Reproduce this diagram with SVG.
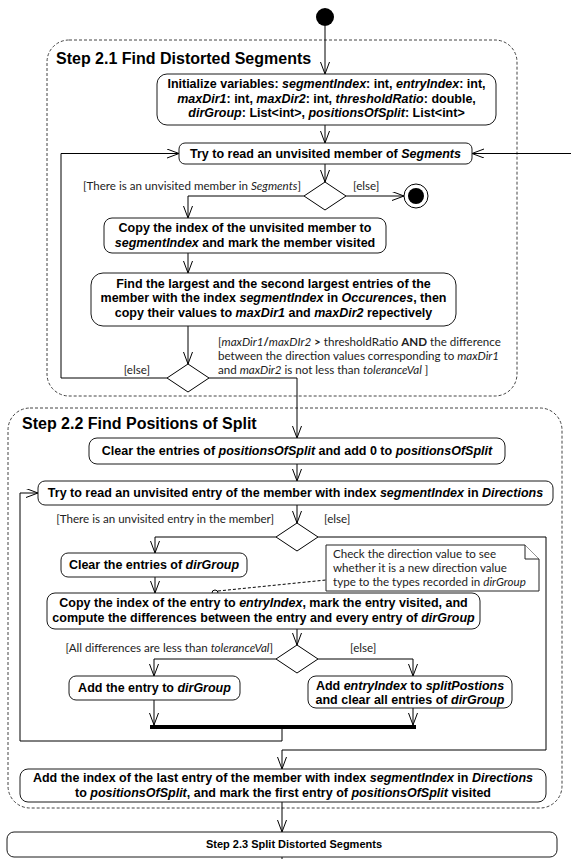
<svg xmlns="http://www.w3.org/2000/svg" width="571" height="859" viewBox="0 0 571 859">
  <defs>
    <style>
      .act { fill: #fff; stroke: #1a1a1a; stroke-width: 1; }
      .t { font-family: "Liberation Sans", Arial, sans-serif; font-weight: bold; font-size: 12.5px; fill: #000; text-anchor: middle; }
      .title { font-family: "Liberation Sans", Arial, sans-serif; font-weight: bold; font-size: 16px; fill: #000; }
      .g { font-family: Lato, "Liberation Sans", sans-serif; font-size: 11.6px; fill: #222; }
      .end { text-anchor: end; }
      .i { font-style: italic; }
      .b { font-weight: bold; }
      .frame { fill: none; stroke: #444; stroke-width: 1; stroke-dasharray: 3 2; }
      .edge { fill: none; stroke: #000; stroke-width: 1; }
      .arrow { marker-end: url(#open); }
      .dec { fill: #fff; stroke: #000; stroke-width: 1; }
      .note { fill: #fff; stroke: #222; stroke-width: 1; }
    </style>
    <marker id="open" markerWidth="14" markerHeight="10" refX="12" refY="4.5" orient="auto" markerUnits="userSpaceOnUse">
      <path d="M0,0 L12,4.5 L0,9" fill="none" stroke="#000" stroke-width="1"/>
    </marker>
  </defs>

  <!-- activity partitions -->
  <g id="step21">
    <rect class="frame" x="47" y="40" width="470" height="356" rx="22"/>
    <text class="title" x="56" y="64">Step 2.1 Find Distorted Segments</text>
  </g>
  <g id="step22">
    <rect class="frame" x="8" y="408" width="554" height="400" rx="22"/>
    <text class="title" x="22" y="429">Step 2.2 Find Positions of Split</text>
  </g>

  <!-- control flows -->
  <g id="edges">
    <path class="edge arrow" d="M325,26 V74"/>
    <path class="edge arrow" d="M325,125 V143"/>
    <path class="edge arrow" d="M571,153.5 H472"/>
    <path class="edge arrow" d="M325,164 V182"/>
    <path class="edge arrow" d="M346,196 H404"/>
    <path class="edge arrow" d="M304,196 H188 V218"/>
    <path class="edge arrow" d="M188,253 V273"/>
    <path class="edge arrow" d="M188,326 V364"/>
    <path class="edge arrow" d="M167,378 H61 V153.5 H179"/>
    <path class="edge arrow" d="M209,378 H297 V438"/>
    <path class="edge arrow" d="M297,464 V481"/>
    <path class="edge arrow" d="M297,505 V523"/>
    <path class="edge arrow" d="M276,537 H155 V553"/>
    <path class="edge arrow" d="M318,537 H546 V750 H282 V769"/>
    <path class="edge arrow" d="M155,577 V593"/>
    <path class="edge arrow" d="M297,629 V645"/>
    <path class="edge arrow" d="M276,659 H154 V676"/>
    <path class="edge arrow" d="M318,659 H413 V676"/>
    <path class="edge arrow" d="M154,700 V725"/>
    <path class="edge arrow" d="M413,708 V725"/>
    <path class="edge arrow" d="M282,729 V741 H20 V493 H38"/>
    <path class="edge arrow" d="M282,802 V832"/>
    <path class="edge" d="M282,857 V859"/>
    <!-- note anchor -->
    <path class="edge" d="M218,591 L326,580" stroke-dasharray="3 2"/>
    <circle cx="215" cy="593" r="3" fill="#fff" stroke="#000"/>

    <!-- guards -->
    <text class="g end" x="301" y="190">[There is an unvisited member in <tspan class="i">Segments</tspan>]</text>
    <text class="g" x="353" y="190">[else]</text>
    <text class="g end" x="150" y="374">[else]</text>
    <text class="g" x="218" y="346">[<tspan class="i">maxDir1</tspan><tspan class="b">/</tspan><tspan class="i">maxDIr2</tspan> <tspan class="b">&gt;</tspan> thresholdRatio <tspan class="b">AND</tspan> the difference</text>
    <text class="g" x="218" y="360">between the direction values corresponding to <tspan class="i">maxDir1</tspan></text>
    <text class="g" x="218" y="374">and <tspan class="i">maxDir2</tspan> is not less than <tspan class="i">toleranceVal</tspan> ]</text>
    <text class="g end" x="274" y="523">[There is an unvisited entry in the member]</text>
    <text class="g" x="324" y="523">[else]</text>
    <text class="g end" x="273" y="652">[All differences are less than <tspan class="i">toleranceVal</tspan>]</text>
    <text class="g" x="350" y="652">[else]</text>
  </g>

  <!-- nodes -->
  <g id="start">
    <circle cx="325" cy="17" r="9" fill="#000"/>
  </g>
  <g id="init">
    <rect class="act" x="157" y="74" width="339" height="51" rx="10"/>
    <text class="t" x="326.5" y="88">Initialize variables: <tspan class="i">segmentIndex</tspan>: int, <tspan class="i">entryIndex</tspan>: int,</text>
    <text class="t" x="326.5" y="102.5"><tspan class="i">maxDir1</tspan>: int, <tspan class="i">maxDir2</tspan>: int, <tspan class="i">thresholdRatio</tspan>: double,</text>
    <text class="t" x="326.5" y="117"><tspan class="i">dirGroup</tspan>: List&lt;int&gt;, <tspan class="i">positionsOfSplit</tspan>: List&lt;int&gt;</text>
  </g>
  <g id="tryMember">
    <rect class="act" x="179" y="143" width="293" height="21" rx="6"/>
    <text class="t" x="325.5" y="158">Try to read an unvisited member of <tspan class="i">Segments</tspan></text>
  </g>
  <g id="decisionMember">
    <polygon class="dec" points="325,182 346,196 325,210 304,196"/>
  </g>
  <g id="final">
    <circle cx="416" cy="196" r="12" fill="#fff" stroke="#000"/>
    <circle cx="416" cy="196" r="8" fill="#000"/>
  </g>
  <g id="copyMember">
    <rect class="act" x="104" y="218" width="282" height="35" rx="8"/>
    <text class="t" x="245" y="232">Copy the index of the unvisited member to</text>
    <text class="t" x="245" y="247"><tspan class="i">segmentIndex</tspan> and mark the member visited</text>
  </g>
  <g id="findMax">
    <rect class="act" x="91" y="273" width="365" height="53" rx="12"/>
    <text class="t" x="273.5" y="287.5">Find the largest and the second largest entries of the</text>
    <text class="t" x="273.5" y="302">member with the index <tspan class="i">segmentIndex</tspan> in <tspan class="i">Occurences</tspan>, then</text>
    <text class="t" x="273.5" y="316.5">copy their values to <tspan class="i">maxDir1</tspan> and <tspan class="i">maxDir2</tspan> repectively</text>
  </g>
  <g id="decisionRatio">
    <polygon class="dec" points="188,364 209,378 188,392 167,378"/>
  </g>
  <g id="clearPositions">
    <rect class="act" x="89" y="438" width="416" height="26" rx="8"/>
    <text class="t" x="297" y="455">Clear the entries of <tspan class="i">positionsOfSplit</tspan> and add 0 to <tspan class="i">positionsOfSplit</tspan></text>
  </g>
  <g id="tryEntry">
    <rect class="act" x="38" y="481" width="515" height="24" rx="7"/>
    <text class="t" x="295.5" y="497">Try to read an unvisited entry of the member with index <tspan class="i">segmentIndex</tspan> in <tspan class="i">Directions</tspan></text>
  </g>
  <g id="decisionEntry">
    <polygon class="dec" points="297,523 318,537 297,551 276,537"/>
  </g>
  <g id="clearGroup">
    <rect class="act" x="61" y="553" width="186" height="24" rx="7"/>
    <text class="t" x="154" y="569">Clear the entries of <tspan class="i">dirGroup</tspan></text>
  </g>
  <g id="noteCheck">
    <path class="note" d="M326,545 H525 L539,559 V591 H326 Z"/>
    <path class="note" d="M525,545 V559 H539" fill="none"/>
    <text class="g" x="333" y="558">Check the direction value to see</text>
    <text class="g" x="333" y="572">whether it is a new direction value</text>
    <text class="g" x="333" y="586">type to the types recorded in <tspan class="i">dirGroup</tspan></text>
  </g>
  <g id="copyEntry">
    <rect class="act" x="47" y="593" width="433" height="36" rx="8"/>
    <text class="t" x="263.5" y="607">Copy the index of the entry to <tspan class="i">entryIndex</tspan>, mark the entry visited, and</text>
    <text class="t" x="263.5" y="622">compute the differences between the entry and every entry of <tspan class="i">dirGroup</tspan></text>
  </g>
  <g id="decisionTolerance">
    <polygon class="dec" points="297,645 318,659 297,673 276,659"/>
  </g>
  <g id="addEntry">
    <rect class="act" x="69" y="676" width="171" height="24" rx="7"/>
    <text class="t" x="154.5" y="692">Add the entry to <tspan class="i">dirGroup</tspan></text>
  </g>
  <g id="addSplit">
    <rect class="act" x="308" y="676" width="204" height="32" rx="8"/>
    <text class="t" x="410" y="689.5">Add <tspan class="i">entryIndex</tspan> to <tspan class="i">splitPostions</tspan></text>
    <text class="t" x="410" y="704">and clear all entries of <tspan class="i">dirGroup</tspan></text>
  </g>
  <g id="join">
    <rect x="150" y="725" width="266" height="4" fill="#000"/>
  </g>
  <g id="addLast">
    <rect class="act" x="20" y="769" width="526" height="33" rx="8"/>
    <text class="t" x="283" y="782">Add the index of the last entry of the member with index <tspan class="i">segmentIndex</tspan> in <tspan class="i">Directions</tspan></text>
    <text class="t" x="283" y="797">to <tspan class="i">positionsOfSplit</tspan>, and mark the first entry of <tspan class="i">positionsOfSplit</tspan> visited</text>
  </g>
  <g id="step23">
    <rect class="act" x="7" y="832" width="550" height="25" rx="7"/>
    <text class="t" x="294" y="848" style="font-size:11px">Step 2.3 Split Distorted Segments</text>
  </g>
</svg>
